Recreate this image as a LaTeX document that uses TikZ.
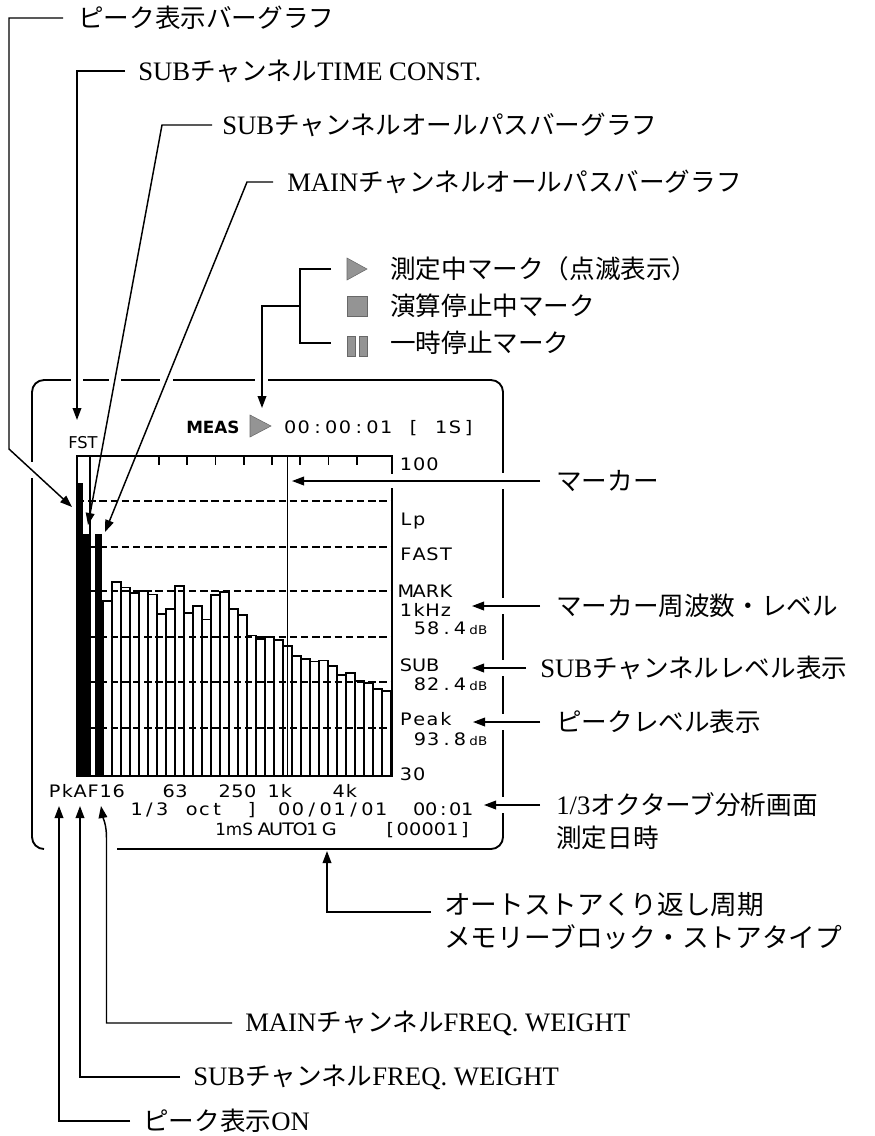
\documentclass[tikz,border=0pt]{standalone}
\usepackage{fontspec}
\setmainfont{Liberation Serif}
\newfontfamily\jpfont{Noto Sans CJK JP}
\newfontfamily\lcdfont[FakeStretch=1.12]{DejaVu Sans}
\newfontfamily\lcdplain{DejaVu Sans}
\usetikzlibrary{arrows.meta}
\newcommand\jsz{19.2}
\newcommand\J[1]{{\jpfont\fontsize{\jsz}{22}\selectfont #1}}
\makeatletter
\newlength\lcdp
\newcommand\lcd[2][10pt]{\setlength\lcdp{#1}\lcd@#2\@nil}
\def\lcd@#1{\ifx#1\@nil\else\makebox[\lcdp][c]{#1}\expandafter\lcd@\fi}
\makeatother
\definecolor{markgray}{gray}{0.58}
\tikzset{
  lbl/.style={anchor=west, inner sep=0pt, font=\fontsize{20}{22}\selectfont},
  lblbig/.style={anchor=west, inner sep=0pt, font=\fontsize{20}{22}\selectfont\def\jsz{20}},
  lcdtxt/.style={anchor=base west, inner sep=0pt, font=\lcdfont\fontsize{12.9}{14}\selectfont},
  conn/.style={line width=1.1pt},
  arr/.style={conn, -{Triangle[length=9pt,width=6.5pt]}},
  scr/.style={line width=1.2pt},
  grid/.style={line width=1.3pt, dash pattern=on 5.6pt off 2.8pt},
  gap/.style={fill=white, draw=none},
  icon/.style={fill=markgray, draw=markgray!70!black, line width=0.4pt},
}
\begin{document}
\begin{tikzpicture}[x=0.75pt,y=-0.75pt]
\useasboundingbox (0,0) rectangle (875,1136);

% ---------- screen frame ----------
\draw[line width=1.4pt] (117,849) -- (491,849) arc[start angle=90,end angle=0,radius=12]
  -- (503,392) arc[start angle=0,end angle=-90,radius=12]
  -- (44,380) arc[start angle=-90,end angle=-180,radius=12]
  -- (32,837) arc[start angle=180,end angle=90,radius=12];

% ---------- graph ----------
\foreach \y in {501,546.7,591.3,637.3,682,727.7}
  \draw[grid] (77,\y) -- (391.7,\y);
\foreach \i/\t in {0/600.7,1/582,2/587.3,3/593,4/590.7,5/594.5,6/614,7/609,8/585.7,9/612.7,
  10/605.7,11/619.5,12/594.7,13/592,14/609,15/615,16/635.5,17/638.7,18/636.7,19/640,
  20/645.7,21/656,22/659,23/661.5,24/660.3,25/665.7,26/674.7,27/672.7,28/680.7,29/683,
  30/688.7,31/690.7}
  \draw[scr] ({102.7+9*\i},776) rectangle ({111.7+9*\i},\t);
\fill (77,482.7) rectangle (83,776);
\fill (83,534) rectangle (88.5,776);
\fill (95.3,534) rectangle (101.7,776);
\draw[scr] (77,776) -- (77,456) -- (391.7,456) -- (391.7,776) -- cycle;
\draw[scr] (90,456) -- (90,776);
\draw[scr] (287.3,456) -- (287.3,776);
\foreach \x in {159,187,215.3,244,271.7,300,328.3,356.7}
  \draw[scr] (\x,456) -- (\x,465);

% ---------- screen texts ----------
\node[lcdtxt, font=\lcdplain\bfseries\fontsize{12.6}{14}\selectfont] (meas) at (186,433.5) {MEAS};
\filldraw[icon] (250,415) -- (271,426) -- (250,437) -- cycle;
\node[lcdtxt] (time) at (283,433.5) {\lcd[10.3pt]{00:00:01~[~1S]}};
\node[lcdtxt, font=\lcdplain\fontsize{12.2}{14}\selectfont] (fst) at (68,448) {FST};

\node[lcdtxt] (v100) at (399,470) {\lcd{100}};
\node[lcdtxt] (vlp) at (399,525) {\lcd{Lp}};
\node[lcdtxt] (vfast) at (399,560) {\lcd{FAST}};
\node[lcdtxt] (vmark) at (399,597.5) {\lcd{MARK}};
\node[lcdtxt] (vkhz) at (399,616) {\lcd{1kHz}};
\node[lcdtxt] (vm) at (413,634) {\lcd{58.4}\,{\fontsize{9}{10}\selectfont dB}};
\node[lcdtxt] (vsub) at (399,671) {\lcd{SUB}};
\node[lcdtxt] (vs) at (413,690) {\lcd{82.4}\,{\fontsize{9}{10}\selectfont dB}};
\node[lcdtxt] (vpeak) at (399,725) {\lcd{Peak}};
\node[lcdtxt] (vp) at (413,745) {\lcd{93.8}\,{\fontsize{9}{10}\selectfont dB}};
\node[lcdtxt] (v30) at (399,780) {\lcd{30}};

\node[lcdtxt] (pk) at (48,797.5) {\lcd[9.6pt]{PkAF16}};
\node[lcdtxt] (f63) at (162,797.5) {\lcd[9.6pt]{63}};
\node[lcdtxt] (f250) at (218,797.5) {\lcd[9.6pt]{250}};
\node[lcdtxt] (f1k) at (267,797.5) {\lcd[9.6pt]{1k}};
\node[lcdtxt] (f4k) at (332,797.5) {\lcd[9.6pt]{4k}};
\node[lcdtxt] (oct1) at (130,815.5) {\lcd[9.6pt]{1/3}};
\node[lcdtxt] (oct2) at (185,815.5) {\lcd[9.6pt]{oct}};
\node[lcdtxt] (oct3) at (245,815.5) {\lcd[9.6pt]{]}};
\node[lcdtxt] (date) at (277,815.5) {\lcd[10.4pt]{00/01/01}};
\node[lcdtxt] (clock) at (413,815.5) {\lcd[9pt]{00:01}};
\node[lcdtxt, font=\lcdplain\fontsize{12.6}{14}\selectfont] (ms) at (215,835) {1mS};
\node[lcdtxt] (auto) at (258,835) {\lcd[9pt]{AUTO1}};
\node[lcdtxt] (gg) at (323,835) {\lcd[9pt]{G}};
\node[lcdtxt] (blk) at (384,835) {\lcd[9.3pt]{[00001]}};

% ---------- gaps where leaders cross frame lines ----------
\fill[gap] (71,376) rectangle (83,384);
\fill[gap] (109,376) rectangle (121,384);
\fill[gap] (160,376) rectangle (173,384);
\fill[gap] (255,376) rectangle (268,384);
\fill[gap] (29,462) rectangle (35,478);
\foreach \y in {481,606,668,722,805}
  \fill[gap] (500,\y-8) rectangle (506,\y+8);
\fill[gap] (389,474) rectangle (394,488);

% ---------- labels ----------
\node[lbl] (L1) at (78,18) {\J{ピーク表示バーグラフ}};
\node[lbl] (L2) at (138,71) {SUB\J{チャンネル}TIME CONST.};
\node[lbl] (L3) at (222,125) {SUB\J{チャンネルオールパスバーグラフ}};
\node[lbl] (L4) at (287,182) {MAIN\J{チャンネルオールパスバーグラフ}};

\node[lbl] (M1) at (390,269) {\J{測定中マーク（点滅表示）}};
\node[lbl] (M2) at (390,306) {\J{演算停止中マーク}};
\node[lbl] (M3) at (390,343) {\J{一時停止マーク}};

\node[lbl] (R1) at (556,481) {\J{マーカー}};
\node[lbl] (R2) at (556,606) {\J{マーカー周波数・レベル}};
\node[lbl] (R3) at (540,668) {SUB\J{チャンネルレベル表示}};
\node[lbl] (R4) at (556,722) {\J{ピークレベル表示}};
\node[lbl] (R5) at (556,805) {1/3\J{オクターブ分析画面}};
\node[lbl] (R6) at (556,838) {\J{測定日時}};

\node[lblbig] (B1) at (444,905) {\J{オートストアくり返し周期}};
\node[lblbig] (B2) at (444,937) {\J{メモリーブロック・ストアタイプ}};

\node[lbl] (F1) at (245,1023) {MAIN\J{チャンネル}FREQ. WEIGHT};
\node[lbl] (F2) at (193,1077) {SUB\J{チャンネル}FREQ. WEIGHT};
\node[lbl] (F3) at (143,1121) {\J{ピーク表示}ON};

% ---------- icons ----------
\filldraw[icon] (347,258) -- (367,269) -- (347,280) -- cycle;
\filldraw[icon] (347,296) rectangle (367,316);
\filldraw[icon] (347,336) rectangle (355,356);
\filldraw[icon] (359,336) rectangle (367,356);

% ---------- tips ----------
\coordinate (tL1) at (72,507);
\coordinate (tL2) at (77,420);
\coordinate (tL3) at (88,525);
\coordinate (tL4) at (105,532);
\coordinate (tM) at (262,408);
\coordinate (tR1) at (292,481);
\coordinate (tR2) at (472,606);
\coordinate (tR3) at (472,668);
\coordinate (tR4) at (473,722);
\coordinate (tR5) at (484,805);
\coordinate (tB) at (327,851);
\coordinate (tF1) at (101,806);
\coordinate (tF2) at (80,806);
\coordinate (tF3) at (59,806);

% ---------- connectors ----------
\draw[arr] ([shift={(-15,0)}]L1.west) -| (9,449) -- (tL1);
\draw[arr] ([shift={(-13,0)}]L2.west) -| (tL2);
\draw[arr] ([shift={(-10,0)}]L3.west) -- (162,125) -- (tL3);
\draw[arr] ([shift={(-14,0)}]L4.west) -- (247,182) -- (tL4);

\draw[conn] ([shift={(-59,0)}]M1.west) -- (300,269) -- (300,343) -- ([shift={(-59,0)}]M3.west);
\draw[arr] (300,306) -| (tM);

\draw[arr] ([shift={(-16,0)}]R1.west) -- (tR1);
\draw[arr] ([shift={(-16,0)}]R2.west) -- (tR2);
\draw[arr] ([shift={(-14,0)}]R3.west) -- (tR3);
\draw[arr] ([shift={(-16,0)}]R4.west) -- (tR4);
\draw[arr] ([shift={(-16,0)}]R5.west) -- (tR5);

\draw[arr] ([shift={(-13,7)}]B1.west) -| (tB);

\draw[arr] ([shift={(-13,0)}]F1.west) -- (106.5,1023) -- (106.5,838) .. controls (106.5,824) and (103,818) .. (tF1);
\draw[arr] ([shift={(-13,0)}]F2.west) -| (tF2);
\draw[arr] ([shift={(-13,0)}]F3.west) -| (tF3);
\end{tikzpicture}
\end{document}
